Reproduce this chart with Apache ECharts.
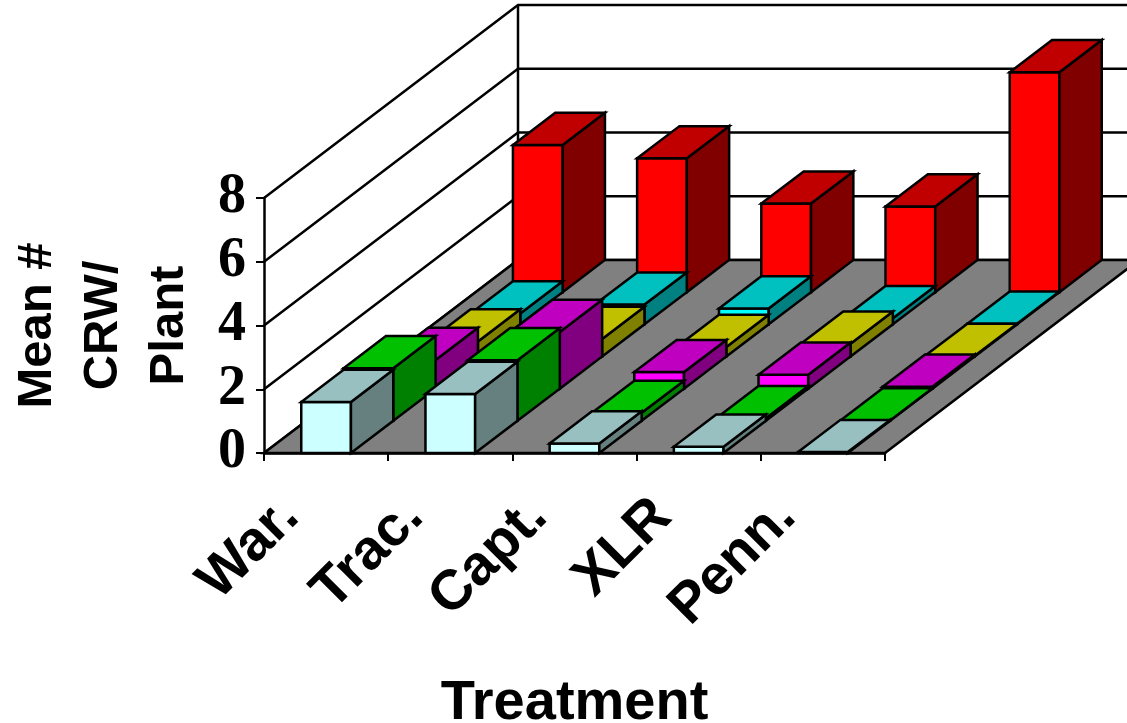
<!DOCTYPE html>
<html>
<head>
<meta charset="utf-8">
<title>Mean CRW per plant</title>
<style>
html, body { margin: 0; padding: 0; background: #fff; }
#main { width: 1127px; height: 723px; }
</style>
<script src="https://cdn.jsdelivr.net/npm/echarts@6/dist/echarts.min.js"></script>
</head>
<body>
<div id="main"></div>
<script>
// categories and tick labels
var treatments = ['War.', 'Trac.', 'Capt.', 'XLR', 'Penn.'];
var yTicks = [0, 2, 4, 6, 8];

// one row of bars per depth slot, front to back
var rowLight = [1.6, 1.85, 0.3, 0.2, 0.03];
var rowGreen = [1.65, 1.9, 0.25, 0.08, 0.01];
var rowMagenta = [0.9, 1.78, 0.52, 0.44, 0.06];
var rowYellow = [0.47, 0.55, 0.3, 0.4, 0.02];
var rowTeal = [0.34, 0.62, 0.5, 0.19, 0.02];
var rowRed = [4.62, 4.2, 2.78, 2.69, 6.9];

var rows = [
    { name: 'row1', values: rowLight, front: '#ccffff', top: '#99c0c0', side: '#668080' },
    { name: 'row2', values: rowGreen, front: '#00ff00', top: '#00c000', side: '#008000' },
    { name: 'row3', values: rowMagenta, front: '#ff00ff', top: '#c000c0', side: '#800080' },
    { name: 'row4', values: rowYellow, front: '#ffff00', top: '#c0c000', side: '#808000' },
    { name: 'row5', values: rowTeal, front: '#00ffff', top: '#00c0c0', side: '#008080' },
    { name: 'row6', values: rowRed, front: '#ff0000', top: '#c00000', side: '#800000' }
];

// oblique depth of the box
var depthX = 254;
var depthY = 193;
var slotX = depthX / rows.length;
var slotY = depthY / rows.length;
var edge = { stroke: '#000', lineWidth: 2.5, lineJoin: 'miter' };

function face(points, fill) {
    return {
        type: 'polygon',
        shape: { points: points },
        style: { fill: fill, stroke: edge.stroke, lineWidth: edge.lineWidth, lineJoin: edge.lineJoin }
    };
}

function renderFloor(params, api) {
    var box = params.coordSys;
    var y = api.coord([0, api.value(1)])[1];
    var x0 = box.x, x1 = box.x + box.width;
    return face([[x0, y], [x1, y], [x1 + depthX, y - depthY], [x0 + depthX, y - depthY]], '#808080');
}

// lines on the side wall and the back wall for each tick
function renderWall(params, api) {
    var box = params.coordSys;
    var y = api.coord([0, api.value(1)])[1];
    var x0 = box.x, x1 = box.x + box.width;
    return {
        type: 'polyline',
        shape: { points: [[x0, y], [x0 + depthX, y - depthY], [x1 + depthX, y - depthY]] },
        style: { fill: null, stroke: '#000', lineWidth: edge.lineWidth }
    };
}

function renderBack(params, api) {
    var box = params.coordSys;
    var y0 = api.coord([0, 0])[1];
    var y1 = api.coord([0, 8])[1];
    var x = box.x + depthX;
    return {
        type: 'line',
        shape: { x1: x, y1: y0 - depthY, x2: x, y2: y1 - depthY },
        style: { stroke: '#000', lineWidth: edge.lineWidth }
    };
}

function makeBarRenderer(slot, row) {
    return function (params, api) {
        var base = api.coord([api.value(0), 0]);
        var tip = api.coord([api.value(0), api.value(1)]);
        var w = api.size([1, 0])[0] * 0.4;
        var x0 = base[0] - w / 2 + slot * slotX;
        var x1 = x0 + w;
        var yb = base[1] - slot * slotY;
        var yt = tip[1] - slot * slotY;
        return {
            type: 'group',
            children: [
                face([[x0, yb], [x1, yb], [x1, yt], [x0, yt]], row.front),
                face([[x1, yb], [x1 + slotX, yb - slotY], [x1 + slotX, yt - slotY], [x1, yt]], row.side),
                face([[x0, yt], [x1, yt], [x1 + slotX, yt - slotY], [x0 + slotX, yt - slotY]], row.top)
            ]
        };
    };
}

var series = [];
series.push({ type: 'custom', name: 'walls', z: 0, silent: true, renderItem: renderWall,
    encode: { x: 0, y: 1 }, data: yTicks.map(function (t) { return [0, t]; }) });
series.push({ type: 'custom', name: 'back', z: 0, silent: true, renderItem: renderBack,
    encode: { x: 0, y: 1 }, data: [[0, 0]] });
series.push({ type: 'custom', name: 'floor', z: 0, silent: true, renderItem: renderFloor,
    encode: { x: 0, y: 1 }, data: [[0, 0]] });
// back row first so that the nearer rows paint over it
for (var s = rows.length - 1; s >= 0; s--) {
    series.push({
        type: 'custom',
        name: rows[s].name,
        z: 2,
        silent: true,
        renderItem: makeBarRenderer(s, rows[s]),
        encode: { x: 0, y: 1 },
        data: rows[s].values.map(function (v, i) { return [i, v]; })
    });
}

var myChart = echarts.init(document.getElementById('main'), null, { renderer: 'canvas' });
var option = {
    animation: false,
    backgroundColor: '#fff',
    tooltip: { show: false },
    grid: { left: 264, top: 198, width: 621, height: 255, containLabel: false, outerBoundsMode: 'none' },
    xAxis: {
        type: 'category',
        data: treatments,
        z: 1,
        name: 'Treatment',
        nameLocation: 'middle',
        nameGap: 223,
        nameMoveOverlap: false,
        nameTextStyle: { fontFamily: 'Liberation Sans', fontWeight: 'bold', fontSize: 56, color: '#000' },
        axisLine: { lineStyle: { color: '#000', width: 2.5 } },
        axisTick: { show: true, length: 8, alignWithLabel: false, lineStyle: { color: '#000', width: 2 } },
        axisLabel: {
            interval: 0,
            rotate: 45,
            margin: 19,
            padding: [0, 51, 0, 0],
            fontFamily: 'Liberation Sans',
            fontWeight: 'bold',
            fontSize: 56,
            color: '#000'
        },
        splitLine: { show: false }
    },
    yAxis: {
        type: 'value',
        min: 0,
        max: 8,
        interval: 2,
        z: 1,
        name: 'Mean #\nCRW/\nPlant',
        nameLocation: 'middle',
        nameRotate: 90,
        nameGap: 62,
        nameMoveOverlap: false,
        nameTextStyle: { fontFamily: 'Liberation Sans', fontWeight: 'bold', fontSize: 49, lineHeight: 66, color: '#000' },
        axisLine: { show: true, lineStyle: { color: '#000', width: 2.5 } },
        axisTick: { show: true, length: 8, lineStyle: { color: '#000', width: 2 } },
        axisLabel: {
            margin: 18,
            padding: [13, 0, 0, 0],
            fontFamily: 'Liberation Serif',
            fontWeight: 'bold',
            fontSize: 56,
            color: '#000'
        },
        splitLine: { show: false }
    },
    series: series
};
myChart.setOption(option);
window.onresize = myChart.resize;
</script>
</body>
</html>
